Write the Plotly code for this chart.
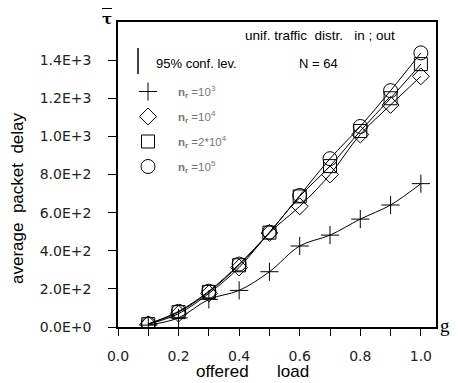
import plotly.graph_objects as go

# ---- data ----
offered_load = [0.1, 0.2, 0.3, 0.4, 0.5, 0.6, 0.7, 0.8, 0.9, 1.0]
delay_nr_1e3 = [10, 48, 145, 192, 290, 425, 482, 566, 640, 752]
delay_nr_1e4 = [14, 70, 176, 312, 494, 633, 800, 1010, 1165, 1315]
delay_nr_2e4 = [15, 78, 184, 324, 495, 685, 844, 1028, 1200, 1379]
delay_nr_1e5 = [17, 82, 188, 330, 497, 690, 883, 1052, 1240, 1438]

series_names = [
    "<b>n</b><sub><b>r</b></sub> =10<sup>3</sup>",
    "<b>n</b><sub><b>r</b></sub> =10<sup>4</sup>",
    "<b>n</b><sub><b>r</b></sub> =2*10<sup>4</sup>",
    "<b>n</b><sub><b>r</b></sub> =10<sup>5</sup>",
]
x_tick_vals = [0.0, 0.1, 0.2, 0.3, 0.4, 0.5, 0.6, 0.7, 0.8, 0.9, 1.0]
x_tick_text = ["0.0", "", "0.2", "", "0.4", "", "0.6", "", "0.8", "", "1.0"]
y_tick_vals = [0, 200, 400, 600, 800, 1000, 1200, 1400]
y_tick_text = ["0.0E+0", "2.0E+2", "4.0E+2", "6.0E+2", "8.0E+2", "1.0E+3", "1.2E+3", "1.4E+3"]

# ---- layout geometry (page pixels; page body has an 8px margin) ----
OFF = 8
W, H = 458 - OFF, 383 - OFF
PLOT_LEFT, PLOT_RIGHT, PLOT_TOP, PLOT_BOTTOM = 118, 436, 22, 327
L = PLOT_LEFT - OFF
T = PLOT_TOP - OFF
R = W - (PLOT_RIGHT - OFF)
B = H - (PLOT_BOTTOM - OFF)
PW, PH = W - L - R, H - T - B


def px(x):
    return (x - PLOT_LEFT) / PW


def py(y):
    return (PLOT_BOTTOM - y) / PH


symbols = ["cross-thin-open", "diamond-open", "square-open", "circle-open"]
sizes = [13, 13, 13, 14]
series = [delay_nr_1e3, delay_nr_1e4, delay_nr_2e4, delay_nr_1e5]

fig = go.Figure()
for i, (vals, name) in enumerate(zip(series, series_names)):
    mk = dict(symbol=symbols[i], size=sizes[i], color="black",
              line=dict(color="black", width=1))
    fig.add_trace(go.Scatter(
        x=offered_load, y=vals, name=name, mode="lines+markers",
        line=dict(color="black", width=1, shape="spline"),
        marker=mk, showlegend=False,
    ))
    # legend key (markers only)
    fig.add_trace(go.Scatter(
        x=[None], y=[None], name=name, mode="markers", marker=mk,
        legendgroup=f"g{i}", showlegend=True,
    ))

font_tick = dict(family="DejaVu Sans", size=14, color="#222")
font_title = dict(family="Liberation Sans", size=17, color="black")

fig.update_layout(
    width=W, height=H,
    margin=dict(l=L, r=R, t=T, b=B, pad=0),
    paper_bgcolor="white", plot_bgcolor="white",
    showlegend=True,
    legend=dict(
        x=0, xanchor="left", y=py(77), yanchor="top",
        font=dict(family="Liberation Sans", size=11.5, color="#777"),
        itemwidth=50, tracegroupgap=6, traceorder="grouped",
        bgcolor="rgba(0,0,0,0)", borderwidth=0,
    ),
    xaxis=dict(
        range=[0, 1.05], tickvals=x_tick_vals, ticktext=x_tick_text,
        ticks="outside", ticklen=7, tickcolor="black", tickwidth=1,
        showline=True, linecolor="black", linewidth=1.5, mirror=True,
        showgrid=False, zeroline=False, tickfont=font_tick,
        ticklabelstandoff=8,
    ),
    yaxis=dict(
        range=[0, 1600], tickvals=y_tick_vals, ticktext=y_tick_text,
        ticks="outside", ticklen=8, tickcolor="black", tickwidth=1,
        showline=True, linecolor="black", linewidth=1.5, mirror=True,
        showgrid=False, zeroline=False, tickfont=font_tick,
        ticklabelstandoff=14,
    ),
)

annotations = [
    dict(text="average  packet  delay", x=px(18), y=py(198), textangle=-90,
         font=font_title, xanchor="center", yanchor="middle"),
    dict(text="offered      load", x=px(252), y=py(371),
         font=font_title, xanchor="center", yanchor="middle"),
    dict(text="unif. traffic  distr.   in ; out", x=px(243), y=py(36),
         font=dict(family="Liberation Sans", size=13.5, color="black"),
         xanchor="left", yanchor="middle"),
    dict(text="N = 64", x=px(297), y=py(64),
         font=dict(family="Liberation Sans", size=13, color="black"),
         xanchor="left", yanchor="middle"),
    dict(text="95% conf. lev.", x=px(154), y=py(63),
         font=dict(family="Liberation Sans", size=13, color="black"),
         xanchor="left", yanchor="middle"),
    dict(text="<b>τ</b>", x=px(107), y=py(19),
         font=dict(family="DejaVu Serif", size=15, color="black"),
         xanchor="center", yanchor="middle"),
    dict(text="g<sub>x</sub>", x=px(448), y=py(327),
         font=dict(family="Liberation Serif", size=19, color="black"),
         xanchor="center", yanchor="middle"),
]
for a in annotations:
    a.update(xref="paper", yref="paper", showarrow=False)
fig.update_layout(annotations=annotations)

fig.add_shape(type="line", xref="paper", yref="paper",
              x0=px(138), x1=px(138), y0=py(48), y1=py(74),
              line=dict(color="black", width=1.5))
fig.add_shape(type="line", xref="paper", yref="paper",
              x0=px(102), x1=px(112), y0=py(8), y1=py(8),
              line=dict(color="black", width=2))

fig.write_html("out.html")
